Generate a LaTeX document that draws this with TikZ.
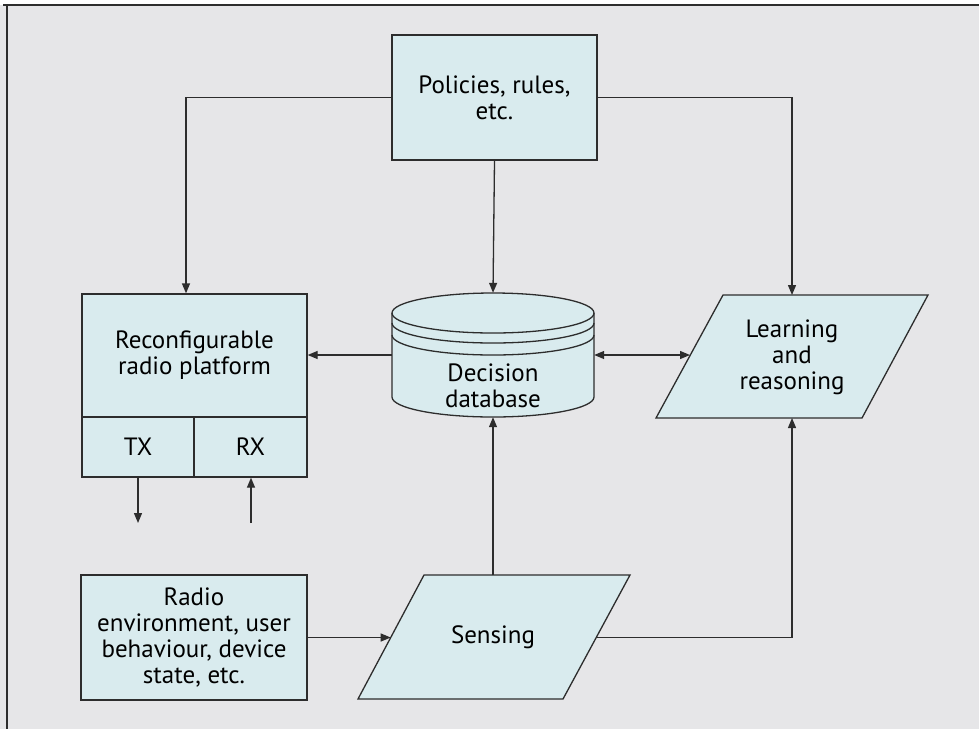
\documentclass[tikz,border=0pt]{standalone}
\usepackage{fontspec}
\setmainfont{PT Sans}
\usetikzlibrary{arrows.meta}
\definecolor{bgc}{RGB}{230,230,232}
\definecolor{boxfill}{RGB}{217,235,238}
\definecolor{ln}{RGB}{45,45,45}
\newcommand\diagfont{\fontsize{25}{26}\selectfont}
\begin{document}
\begin{tikzpicture}[x=1pt,y=-1pt,
  box/.style={draw=ln, fill=boxfill, line width=1.3pt, inner sep=0pt, align=center, font=\diagfont},
  txt/.style={align=center, inner sep=0pt, font=\diagfont},
  shp/.style={draw=ln, fill=boxfill, line width=1.3pt, line join=miter},
  conn/.style={draw=ln, line width=1.3pt},
  tip/.tip={Triangle[length=10pt,width=8pt]},
  arr/.style={conn, -tip}]
\useasboundingbox (0,0) rectangle (979,729);
\fill[white] (0,0) rectangle (979,729);
\fill[bgc] (0,5) rectangle (979,729);
\draw[ln, line width=2pt] (3,5) -- (979,5);
\draw[ln, line width=2pt] (7,5) -- (7,729);

% boxes
\node[box, minimum width=205pt, minimum height=125pt] (pol) at (494.5,97.5) {Policies, rules,\\etc.};
\node[box, minimum width=225pt, minimum height=123pt] (rec) at (194.5,355.5) {Reconfigurable\\radio platform};
\node[box, minimum width=112pt, minimum height=60pt] (tx) at (138,447) {TX};
\node[box, minimum width=113pt, minimum height=60pt] (rx) at (250.5,447) {RX};
\node[box, minimum width=226pt, minimum height=125pt] (env) at (194,637.5) {Radio\\environment, user\\behaviour, device\\state, etc.};

% database cylinder
\filldraw[shp] (392,313) -- (392,397) arc[start angle=180, end angle=360, x radius=101pt, y radius=20pt]
  -- (594,313) arc[start angle=0, end angle=180, x radius=101pt, y radius=20pt] -- cycle;
\draw[conn] (392,313) arc[start angle=180, end angle=360, x radius=101pt, y radius=20pt];
\draw[conn] (392,323) arc[start angle=180, end angle=360, x radius=101pt, y radius=20pt];
\draw[conn] (392,335) arc[start angle=180, end angle=360, x radius=101pt, y radius=20pt];
\node[minimum width=202pt, minimum height=124pt, inner sep=0pt] (db) at (493,355) {};
\node[txt] (dbt) at (493,386) {Decision\\database};

% learning parallelogram
\filldraw[shp] (723,295) -- (928,295) -- (862,418) -- (656,418) -- cycle;
\node[txt] (learn) at (792,357) {Learning\\and\\reasoning};
\coordinate (learnL) at (690,355);
\coordinate (learnT) at (792,295);
\coordinate (learnB) at (792,418);

% sensing parallelogram
\filldraw[shp] (424,575) -- (630,575) -- (563,699) -- (358,699) -- cycle;
\node[txt] (sens) at (493,637) {Sensing};
\coordinate (sensL) at (390.7,637.5);
\coordinate (sensR) at (596.2,637.5);
\coordinate (sensT) at (493,575);

% free ends
\coordinate (txout) at (138,523);
\coordinate (rxin) at (251,523);

% connectors
\draw[arr] (pol.west) -| ([xshift=-8.5pt]rec.north);
\draw[arr] (pol.east) -| (learnT);
\draw[arr] (pol.south) -- (db.north);
\draw[arr] (db.west) -- (rec.east |- db.west);
\draw[conn, tip-tip] (db.east) -- (learnL);
\draw[arr] (sensT) -- (db.south);
\draw[arr] (env.east) -- (sensL);
\draw[arr] (sensR) -| (learnB);
\draw[arr] (tx.south) -- (txout);
\draw[arr] (rxin) -- (rxin |- rx.south);
\end{tikzpicture}
\end{document}
